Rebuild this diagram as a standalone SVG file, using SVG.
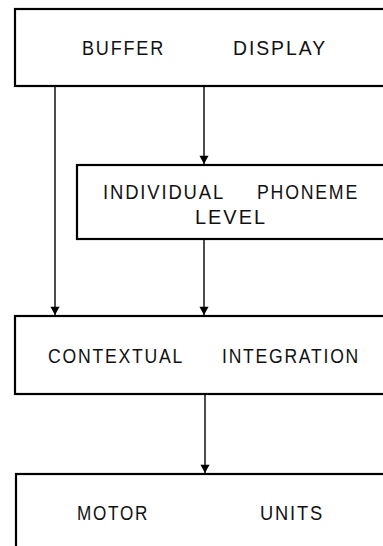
<svg xmlns="http://www.w3.org/2000/svg" width="383" height="546" viewBox="0 0 383 546">
<defs>
<style>
.box{fill:#fff;stroke:#000;stroke-width:2.2}
.lbl{font-family:"Liberation Sans","DejaVu Sans",sans-serif;font-size:20px;letter-spacing:2px;fill:#111}
.con{stroke:#000;stroke-width:1.4;fill:none}
</style>
<marker id="ah" viewBox="0 0 10 12" refX="10" refY="6" markerWidth="12" markerHeight="10" markerUnits="userSpaceOnUse" orient="auto">
<path d="M0,0.5 L10,6 L0,11.5 Z" fill="#000"/>
</marker>
</defs>
<rect width="383" height="546" fill="#fff"/>
<g id="connectors">
<line class="con" x1="55" y1="87" x2="55" y2="315" marker-end="url(#ah)"/>
<line class="con" x1="204" y1="87" x2="204" y2="164" marker-end="url(#ah)"/>
<line class="con" x1="204" y1="240" x2="204" y2="315" marker-end="url(#ah)"/>
<line class="con" x1="205" y1="395" x2="205" y2="473" marker-end="url(#ah)"/>
</g>
<g id="buffer-display">
<rect class="box" x="15" y="9" width="380" height="77"/>
<text class="lbl" x="82" y="55" textLength="83" lengthAdjust="spacingAndGlyphs">BUFFER</text>
<text class="lbl" x="233" y="55" textLength="94" lengthAdjust="spacingAndGlyphs">DISPLAY</text>
</g>
<g id="individual-phoneme-level">
<rect class="box" x="77" y="165" width="320" height="74"/>
<text class="lbl" x="103" y="199" textLength="122" lengthAdjust="spacingAndGlyphs">INDIVIDUAL</text>
<text class="lbl" x="257" y="199" textLength="102" lengthAdjust="spacingAndGlyphs">PHONEME</text>
<text class="lbl" x="195" y="224" textLength="72" lengthAdjust="spacingAndGlyphs">LEVEL</text>
</g>
<g id="contextual-integration">
<rect class="box" x="15" y="316" width="380" height="78"/>
<text class="lbl" x="48" y="363" textLength="136" lengthAdjust="spacingAndGlyphs">CONTEXTUAL</text>
<text class="lbl" x="222" y="363" textLength="138" lengthAdjust="spacingAndGlyphs">INTEGRATION</text>
</g>
<g id="motor-units">
<rect class="box" x="16" y="474" width="380" height="90"/>
<text class="lbl" x="77" y="520" textLength="72" lengthAdjust="spacingAndGlyphs">MOTOR</text>
<text class="lbl" x="260" y="520" textLength="64" lengthAdjust="spacingAndGlyphs">UNITS</text>
</g>
</svg>
